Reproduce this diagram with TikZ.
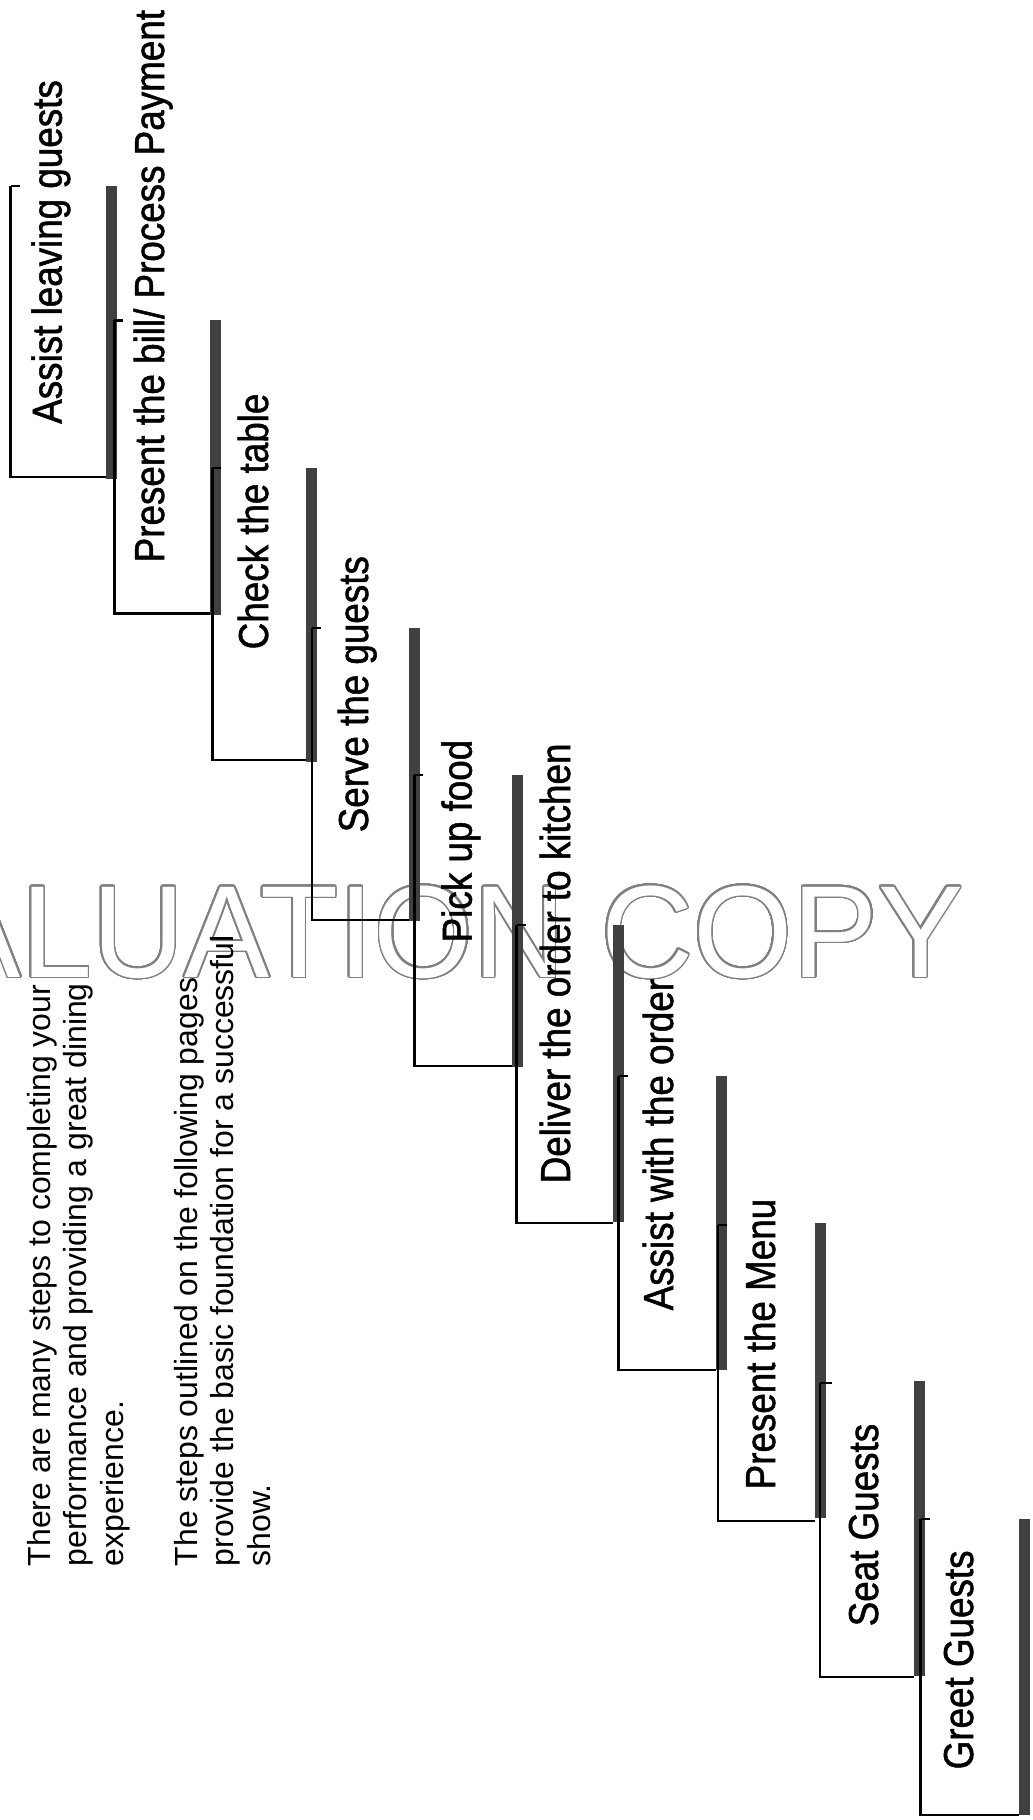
\documentclass[tikz,border=0pt]{standalone}
\usepackage{fontspec}
\setmainfont{Liberation Sans}
\newfontfamily\labelfont[FakeStretch=0.88, FakeBold=1.2]{Liberation Sans}
\newfontfamily\markfont[FakeStretch=0.975]{Liberation Sans}
\usepackage{contour}
\contourlength{0.45pt}
\contournumber{40}
\definecolor{bargray}{HTML}{404040}
\definecolor{markgray}{HTML}{808080}

\begin{document}
\begin{tikzpicture}[x=0.1mm, y=-0.1mm,
      lbl/.style={rotate=90, anchor=base west, inner sep=0pt, font=\labelfont\fontsize{11.9}{13}\selectfont},
      note/.style={rotate=90, anchor=north west, inner sep=0pt, align=left, font=\fontsize{9.1}{10.4}\selectfont},
      edge/.style={line width=0.75pt},
      bar/.style={fill=bargray}]
    \useasboundingbox (0,0) rectangle (1033,1820);

    % watermark
    \node[inner sep=0pt, anchor=base east, font=\markfont\fontsize{37.3}{40}\selectfont] (mark) at (964,977)
      {\contour{markgray}{\textcolor{white}{EVALUATION COPY}}};

    % intro text
    \node[note] (intro) at (26.5,1567) {There are many steps to completing your\\performance and providing a great dining\\experience.};
    \node[note] (outline) at (173.4,1567) {The steps outlined on the following pages\\provide the basic foundation for a successful\\show.};

    % steps, last one first
    \coordinate (l1) at (10.7,186);  \coordinate (b1) at (10.7,477);
    \draw[edge] (l1) -- ++(9,0) (l1) -- (b1) -- (106,477);
    \fill[bar] (106,186) rectangle (116.7,479);
    \node[lbl] (leave) at (61.7,424.5) {Assist leaving guests};

    \coordinate (l2) at (114.3,320.4);  \coordinate (b2) at (114.3,613.5);
    \draw[edge] (l2) -- ++(9,0) (l2) -- (b2) -- (210,613.5);
    \fill[bar] (210,320.4) rectangle (220.7,615);
    \node[lbl] (bill) at (164,563) {Present the bill/ Process Payment};

    \coordinate (l3) at (212.4,468);  \coordinate (b3) at (212.4,760);
    \draw[edge] (l3) -- ++(9,0) (l3) -- (b3) -- (306,760);
    \fill[bar] (306,468) rectangle (316.7,762);
    \node[lbl] (check) at (268,650) {Check the table};

    \coordinate (l4) at (312,628);  \coordinate (b4) at (312,920);
    \draw[edge] (l4) -- ++(9,0) (l4) -- (b4) -- (409,920);
    \fill[bar] (409,628) rectangle (419.7,921);
    \node[lbl] (serve) at (368,833) {Serve the guests};

    \coordinate (l5) at (414.4,775);  \coordinate (b5) at (414.4,1066);
    \draw[edge] (l5) -- ++(9,0) (l5) -- (b5) -- (512,1066);
    \fill[bar] (512,775) rectangle (522.7,1067);
    \node[lbl] (pick) at (471.7,943) {Pick up food};

    \coordinate (l6) at (516.5,925);  \coordinate (b6) at (516.5,1223);
    \draw[edge] (l6) -- ++(9,0) (l6) -- (b6) -- (613,1223);
    \fill[bar] (613,925) rectangle (623.7,1222);
    \node[lbl] (deliver) at (570,1184) {Deliver the order to kitchen};

    \coordinate (l7) at (618.5,1076);  \coordinate (b7) at (618.5,1370);
    \draw[edge] (l7) -- ++(9,0) (l7) -- (b7) -- (716,1370);
    \fill[bar] (716,1076) rectangle (726.7,1370);
    \node[lbl] (order) at (673,1311) {Assist with the order};

    \coordinate (l8) at (718,1225);  \coordinate (b8) at (718,1521);
    \draw[edge] (l8) -- ++(9,0) (l8) -- (b8) -- (815,1521);
    \fill[bar] (815,1223) rectangle (825.7,1518);
    \node[lbl] (menu) at (775,1490) {Present the Menu};

    \coordinate (l9) at (820,1383);  \coordinate (b9) at (820,1677);
    \draw[edge] (l9) -- ++(12,0) (l9) -- (b9) -- (914,1677);
    \fill[bar] (914,1381) rectangle (924.7,1676);
    \node[lbl] (seat) at (878,1627) {Seat Guests};

    \coordinate (l10) at (920.7,1519);  \coordinate (b10) at (920.7,1815);
    \draw[edge] (l10) -- ++(9,0) (l10) -- (b10) -- (1019,1815);
    \fill[bar] (1019,1519) rectangle (1029.7,1815);
    \node[lbl] (greet) at (973,1770) {Greet Guests};
  \end{tikzpicture}
\end{document}
